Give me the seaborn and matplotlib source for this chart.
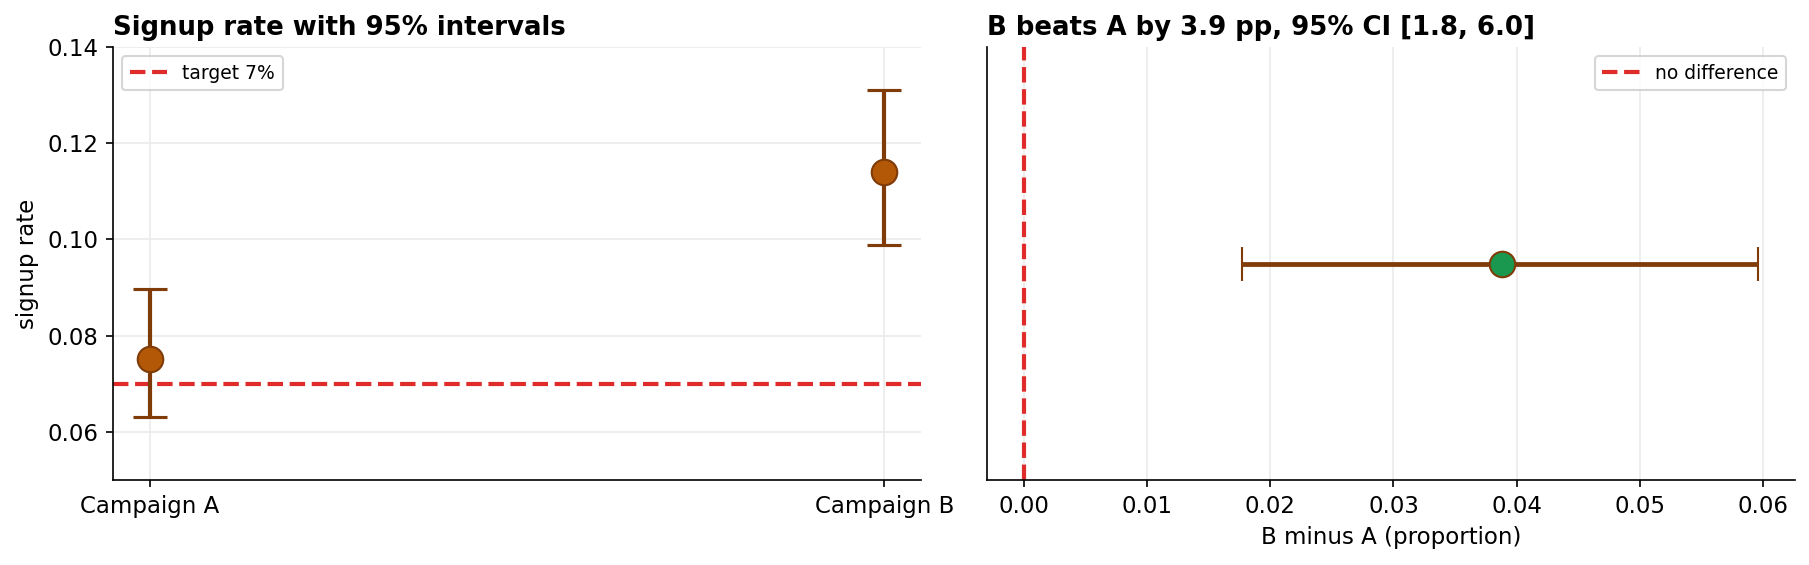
import numpy as np
import pandas as pd
import matplotlib
matplotlib.use("Agg")
import matplotlib.pyplot as plt
import seaborn as sns

# data
campaigns = ["Campaign A", "Campaign B"]
rates = [0.0752, 0.1140]
ci_low = [0.0630, 0.0989]
ci_high = [0.0898, 0.1310]
target = 0.07

diff = 0.0388
diff_low = 0.0177
diff_high = 0.0596

brown = "#7f3b08"
orange = "#b35806"
green = "#1a9850"
red = "#e02b2b"

df = pd.DataFrame({"campaign": campaigns, "rate": rates})
yerr = np.array([np.array(rates) - np.array(ci_low), np.array(ci_high) - np.array(rates)])

fig = plt.figure(figsize=(1809 / 150, 565 / 150), dpi=150)
ax1 = fig.add_axes([0.0625, 0.1504, 0.4466, 0.7664])
ax2 = fig.add_axes([0.5456, 0.1504, 0.4467, 0.7664])

# left: signup rate per campaign
ax1.axhline(target, color=red, ls="--", lw=2, label="target 7%", zorder=2)
ax1.errorbar(df["campaign"], df["rate"], yerr=yerr, fmt="none", ecolor=brown,
             elinewidth=2, capsize=8, capthick=1.5, zorder=3)
sns.scatterplot(data=df, x="campaign", y="rate", ax=ax1, s=150, color=orange,
                edgecolor=brown, linewidth=1, zorder=4, legend=False)
ax1.set_ylim(0.05, 0.14)
ax1.set_yticks([0.06, 0.08, 0.10, 0.12, 0.14])
ax1.set_xlabel("")
ax1.set_ylabel("signup rate", fontsize=11)
ax1.set_title("Signup rate with 95% intervals", loc="left", fontsize=12.5, fontweight="bold")
ax1.grid(True, color="#ebebeb", lw=0.8)
ax1.set_axisbelow(True)
ax1.legend(loc="upper left", fontsize=9)

# right: difference B - A
ax2.axvline(0, color=red, ls="--", lw=2, label="no difference", zorder=2)
ax2.errorbar([diff], [0], xerr=[[diff - diff_low], [diff_high - diff]], fmt="none",
             ecolor=brown, elinewidth=2.3, capsize=8, capthick=1, zorder=3)
sns.scatterplot(x=[diff], y=[0], ax=ax2, s=150, color=green, edgecolor=brown,
                linewidth=1, zorder=4, legend=False)
ax2.set_ylim(-1, 1)
ax2.set_yticks([])
ax2.set_xlabel("B minus A (proportion)", fontsize=11)
ax2.set_title("B beats A by 3.9 pp, 95% CI [1.8, 6.0]", loc="left", fontsize=12.5, fontweight="bold")
ax2.grid(True, axis="x", color="#ebebeb", lw=0.8)
ax2.set_axisbelow(True)
ax2.legend(loc="upper right", fontsize=9)

for ax in (ax1, ax2):
    ax.tick_params(labelsize=11)
sns.despine(fig=fig)

fig.savefig("out.png", dpi=150)
